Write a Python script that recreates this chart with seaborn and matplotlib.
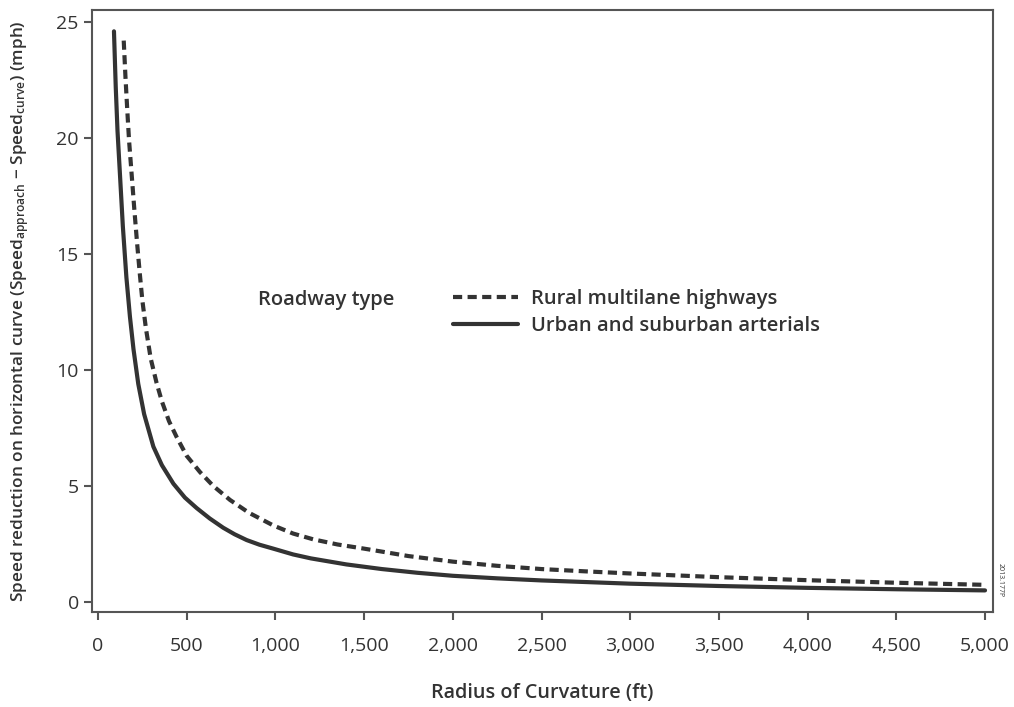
import matplotlib
matplotlib.use("Agg")
import matplotlib.pyplot as plt
import pandas as pd
import seaborn as sns

# values (radius in ft, speed reduction in mph)
urban_radius = [90, 100, 110, 124, 140, 160, 180, 200, 227, 260, 312, 360, 425,
                490, 556, 630, 706, 770, 838, 910, 988, 1100, 1200, 1400, 1600,
                1800, 2000, 2250, 2500, 2750, 3000, 3500, 4000, 4500, 5000]
urban_speed = [24.6, 22.2, 20.3, 18.4, 16.2, 14.0, 12.3, 10.9, 9.4, 8.1, 6.7,
               5.9, 5.1, 4.5, 4.05, 3.6, 3.2, 2.92, 2.67, 2.47, 2.3, 2.05, 1.88,
               1.62, 1.42, 1.26, 1.13, 1.02, 0.93, 0.86, 0.79, 0.69, 0.61, 0.55,
               0.50]

rural_radius = [145, 155, 165, 175, 190, 205, 220, 235, 250, 270, 297, 330, 360,
                400, 444, 500, 575, 650, 744, 850, 988, 1100, 1214, 1350, 1500,
                1750, 2000, 2250, 2500, 2750, 3000, 3500, 4000, 4500, 5000]
rural_speed = [24.2, 22.6, 21.2, 19.9, 18.4, 16.9, 15.5, 14.2, 13.0, 11.8, 10.5,
               9.45, 8.65, 7.8, 7.1, 6.3, 5.6, 5.0, 4.4, 3.85, 3.3, 2.95, 2.7, 2.48,
               2.3, 1.98, 1.74, 1.56, 1.42, 1.32, 1.23, 1.07, 0.94, 0.83, 0.74]

x_ticks = [0, 500, 1000, 1500, 2000, 2500, 3000, 3500, 4000, 4500, 5000]
y_ticks = [0, 5, 10, 15, 20, 25]

rural_label = "Rural multilane highways"
urban_label = "Urban and suburban arterials"

sns.set_style("ticks")
plt.rcParams['font.family'] = ['Open Sans', 'DejaVu Sans']
plt.rcParams['mathtext.default'] = 'regular'

line_col = "#333333"
frame_col = "#555555"
text_col = "#333333"

df_rural = pd.DataFrame({"radius": rural_radius, "speed": rural_speed})
df_urban = pd.DataFrame({"radius": urban_radius, "speed": urban_speed})

fig = plt.figure(figsize=(10.14, 7.07), dpi=100)
ax = fig.add_axes([0.0907, 0.1344, 0.8886, 0.8515])

sns.lineplot(data=df_rural, x="radius", y="speed", ax=ax, color=line_col,
             linewidth=3.0, label=rural_label)
ax.lines[-1].set_dashes((2.2, 1.3))
sns.lineplot(data=df_urban, x="radius", y="speed", ax=ax, color=line_col,
             linewidth=3.0, label=urban_label)

ax.set_xlim(-34, 5045)
ax.set_ylim(-0.43, 25.52)
ax.set_xticks(x_ticks)
ax.set_xticklabels([f"{t:,}" for t in x_ticks])
ax.set_yticks(y_ticks)

for s in ax.spines.values():
    s.set_color(frame_col)
    s.set_linewidth(1.5)
ax.tick_params(colors=frame_col, width=1.5, length=6, labelcolor=text_col,
               labelsize=14)
ax.tick_params(axis="x", pad=12)

ax.set_xlabel("Radius of Curvature (ft)", fontsize=14.2, fontweight="semibold",
              color=text_col, labelpad=20)
ax.set_ylabel("Speed reduction on horizontal curve (Speed$_{approach}$ \u2212 Speed$_{curve}$) (mph)",
              fontsize=12.4, fontweight="semibold", color=text_col, labelpad=18)

leg = ax.legend(loc="center left", bbox_to_anchor=(0.4007, 0.497), frameon=False,
                borderpad=0, borderaxespad=0, handlelength=3.25,
                handletextpad=0.6, labelspacing=0.35,
                prop={"weight": "semibold", "size": 14.5})
for t in leg.get_texts():
    t.set_color(text_col)

ax.text(0.184, 0.518, "Roadway type", transform=ax.transAxes, fontsize=14.5,
        fontweight="semibold", color=text_col, va="center")

fig.text(0.986, 0.18, "2013.177P", rotation=-90, fontsize=5, color=text_col,
         va="center", ha="center")

fig.savefig("out.png", dpi=100)
